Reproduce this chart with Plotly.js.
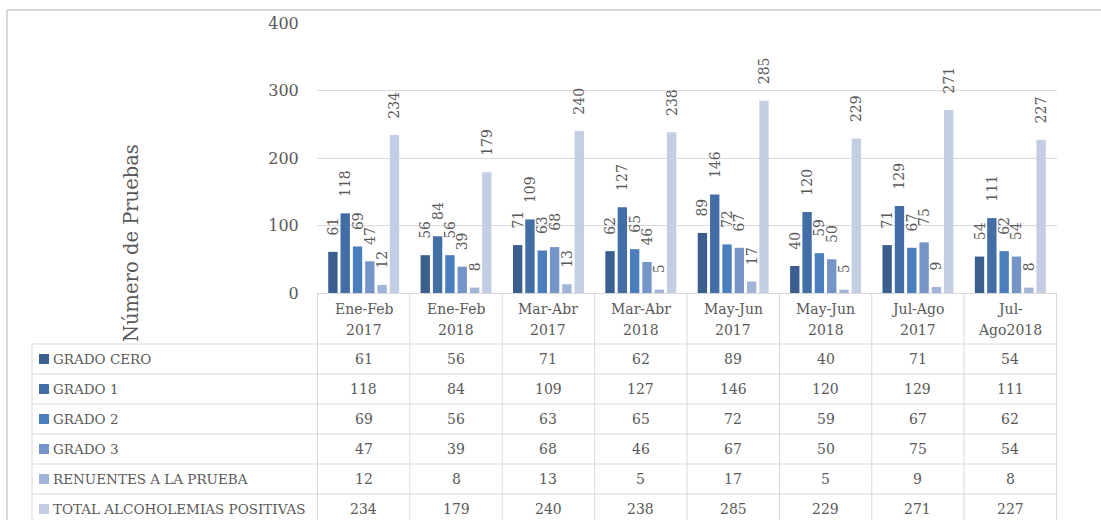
<!DOCTYPE html>
<html>
<head>
<meta charset="utf-8">
<script src="https://cdn.plot.ly/plotly-3.0.1.min.js"></script>
<style>
html,body{margin:0;padding:0;background:#fff;}
#chart{width:1101px;height:520px;}
</style>
</head>
<body>
<div id="chart"></div>
<script>
// ---- data ----
const categories = ["Ene-Feb 2017","Ene-Feb 2018","Mar-Abr 2017","Mar-Abr 2018","May-Jun 2017","May-Jun 2018","Jul-Ago 2017","Jul-Ago2018"];
const headerLabels = ["Ene-Feb<br>2017","Ene-Feb<br>2018","Mar-Abr<br>2017","Mar-Abr<br>2018","May-Jun<br>2017","May-Jun<br>2018","Jul-Ago<br>2017","Jul-<br>Ago2018"];
const seriesNames = ["GRADO CERO","GRADO 1","GRADO 2","GRADO 3","RENUENTES A LA PRUEBA","TOTAL ALCOHOLEMIAS POSITIVAS"];
const gradoCero = [61,56,71,62,89,40,71,54];
const grado1 = [118,84,109,127,146,120,129,111];
const grado2 = [69,56,63,65,72,59,67,62];
const grado3 = [47,39,68,46,67,50,75,54];
const renuentes = [12,8,13,5,17,5,9,8];
const totalPositivas = [234,179,240,238,285,229,271,227];
const yTicks = [0,100,200,300,400];
const yTitle = "Número de Pruebas";

// ---- styles ----
const colors = ["#3A5F8F","#436EA5","#4B7EBC","#7595C8","#A2B5D9","#C3CEE4"];
const FONT = "DejaVu Serif, Liberation Serif, serif";
const GRAY = "#595959";
const LINE = "#d9d9d9";
const allSeries = [gradoCero, grado1, grado2, grado3, renuentes, totalPositivas];

// layout geometry (pixels)
const W = 1101, H = 520, L = 317, R = 1057, T = 23, B = 293;
const px2x = p => (p - L) / (R - L);
const px2y = p => (B - p) / (B - T);
const rowTop = 344, rowH = 30;

const pad = "\u00a0\u00a0\u00a0";
const traces = allSeries.map((vals, i) => ({
  type: "bar",
  name: seriesNames[i],
  x: categories,
  y: vals,
  text: vals.map(v => pad + v),
  textposition: "outside",
  textangle: -90,
  constraintext: "none",
  cliponaxis: false,
  textfont: {family: FONT, size: 14, color: GRAY},
  marker: {color: colors[i]},
  hoverinfo: "x+y+name"
}));

const shapes = [];
const annotations = [];

// outer frame
shapes.push({type:"line", xref:"paper", yref:"paper", x0:px2x(7), x1:px2x(1101), y0:px2y(10), y1:px2y(10), line:{color:LINE, width:2}});
shapes.push({type:"line", xref:"paper", yref:"paper", x0:px2x(7), x1:px2x(7), y0:px2y(10), y1:px2y(520), line:{color:LINE, width:2}});

// table vertical lines (category boundaries)
for (let j = 0; j <= categories.length; j++) {
  shapes.push({type:"line", xref:"x", yref:"paper", x0:j-0.5, x1:j-0.5, y0:px2y(B), y1:px2y(rowTop + rowH*seriesNames.length), line:{color:LINE, width:1}});
}
// table left border
shapes.push({type:"line", xref:"paper", yref:"paper", x0:px2x(32), x1:px2x(32), y0:px2y(rowTop), y1:px2y(rowTop + rowH*seriesNames.length), line:{color:LINE, width:1}});
// table horizontal lines
for (let r = 0; r <= seriesNames.length; r++) {
  const yy = rowTop + rowH*r;
  shapes.push({type:"line", xref:"paper", yref:"paper", x0:px2x(32), x1:px2x(R), y0:px2y(yy), y1:px2y(yy), line:{color:LINE, width:1}});
}

// header labels
headerLabels.forEach((lab, j) => {
  const parts = lab.split("<br>");
  parts.forEach((p, k) => {
    annotations.push({xref:"x", yref:"paper", x:categories[j], y:px2y(309 + 21*k), text:p, showarrow:false,
      xanchor:"center", yanchor:"middle", font:{family:FONT, size:14, color:GRAY}});
  });
});

// rows
seriesNames.forEach((name, i) => {
  const cy = rowTop + rowH*i + 15;
  shapes.push({type:"rect", xref:"paper", yref:"paper", x0:px2x(39), x1:px2x(49), y0:px2y(cy-5), y1:px2y(cy+5), fillcolor:colors[i], line:{width:0}});
  annotations.push({xref:"paper", yref:"paper", x:px2x(51), y:px2y(cy), text:name, showarrow:false,
    xanchor:"left", yanchor:"middle", font:{family:FONT, size:13.5, color:GRAY}});
  allSeries[i].forEach((v, j) => {
    annotations.push({xref:"x", yref:"paper", x:categories[j], y:px2y(cy), text:String(v), showarrow:false,
      xanchor:"center", yanchor:"middle", font:{family:FONT, size:14, color:GRAY}});
  });
});

// y axis title
annotations.push({xref:"paper", yref:"paper", x:px2x(131), y:px2y(243), text:yTitle, textangle:-90, showarrow:false,
  xanchor:"center", yanchor:"middle", font:{family:FONT, size:19.5, color:GRAY}});

const layout = {
  width: W, height: H,
  margin: {l: L, r: W - R, t: T, b: H - B, pad: 0},
  paper_bgcolor: "#fff", plot_bgcolor: "#fff",
  showlegend: false,
  barmode: "group",
  bargap: 0.2,
  bargroupgap: 0.24,
  xaxis: {type:"category", showticklabels:false, ticks:"", showgrid:false, showline:true, linecolor:LINE, linewidth:1, zeroline:false, fixedrange:true},
  yaxis: {range:[0,400], tickvals:yTicks, ticktext:yTicks.map(String), showgrid:true, gridcolor:LINE, gridwidth:1,
    zeroline:false, showline:false, ticks:"outside", ticklen:14, tickcolor:"rgba(0,0,0,0)",
    tickfont:{family:FONT, size:16, color:GRAY}, fixedrange:true},
  shapes: shapes,
  annotations: annotations
};

Plotly.newPlot("chart", traces, layout, {displayModeBar:false, staticPlot:true});
</script>
</body>
</html>
